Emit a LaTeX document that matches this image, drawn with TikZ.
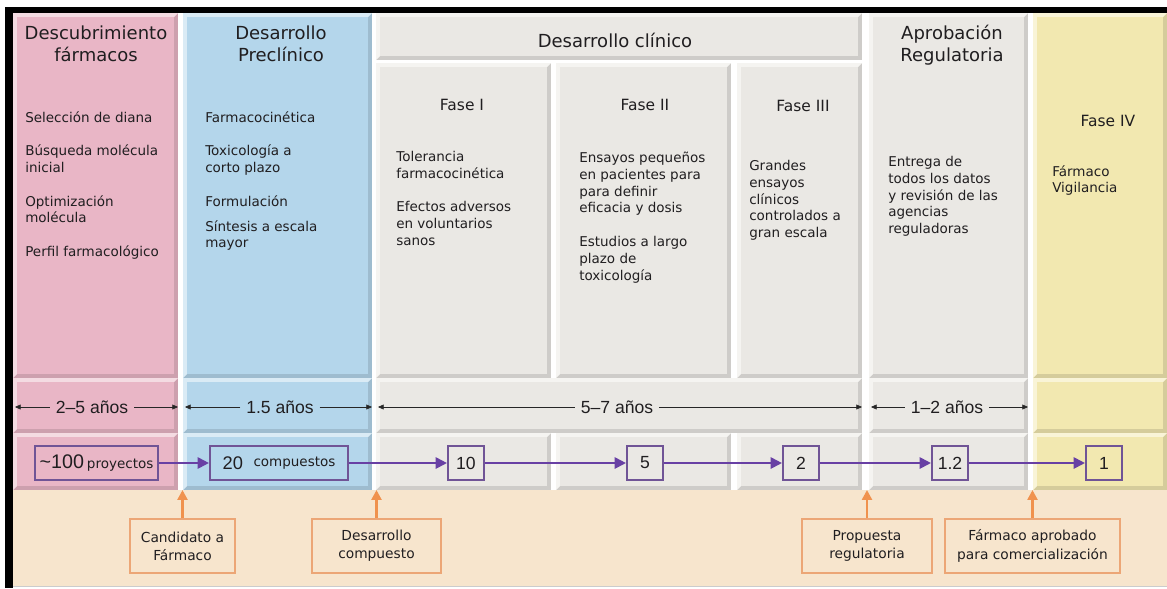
\documentclass[tikz,border=0pt]{standalone}
\usepackage{fontspec}
\setmainfont{DejaVu Sans}
\newfontfamily\numfont{Liberation Sans}
\usepackage{tikz}
\usetikzlibrary{arrows.meta}

\definecolor{discPink}{RGB}{233,182,198}
\definecolor{precBlue}{RGB}{180,214,235}
\definecolor{clinGrey}{RGB}{234,232,228}
\definecolor{postYellow}{RGB}{242,232,176}
\definecolor{baseBeige}{RGB}{247,229,205}
\definecolor{flowPurple}{RGB}{104,64,164}
\definecolor{boxPurple}{RGB}{112,84,150}
\definecolor{mileOrange}{RGB}{240,146,78}
\definecolor{mileBox}{RGB}{236,166,118}
\definecolor{inkGrey}{RGB}{32,30,32}

% panel with a light top-left and a dark bottom-right rim
\newcommand{\bevelbox}[5]{%
  \fill[#5!88!black] (#1,#2) rectangle (#3,#4);
  \fill[#5!50!white] (#1,#4) -- (#1,#2) -- (#3,#2) -- (#3-4,#2+4) -- (#1+4,#2+4) -- (#1+4,#4-4) -- cycle;
  \fill[#5] (#1+4,#2+4) rectangle (#3-4,#4-4);}

\begin{document}
\begin{tikzpicture}[x=0.025cm, y=-0.025cm, every node/.style={text=inkGrey},
  head/.style={align=center, font=\fontsize{12.8}{15.6}\selectfont},
  fase/.style={font=\fontsize{11}{13}\selectfont},
  body/.style={align=left, anchor=north west, inner sep=0pt, font=\fontsize{9.6}{11.9}\selectfont, execute at begin node=\strut},
  durtxt/.style={font=\numfont\fontsize{12.5}{14}\selectfont, inner xsep=4pt},
  dur/.style={black!85, thin, -{Triangle[length=4pt,width=3.5pt]}},
  cnt/.style={draw=boxPurple, line width=1.5pt, minimum width=0.9cm, minimum height=0.85cm, inner sep=0pt, font=\numfont\fontsize{12.5}{14}\selectfont},
  flow/.style={flowPurple, line width=1.4pt, -{Triangle[length=8pt,width=8pt]}},
  mile/.style={draw=mileBox, line width=1.4pt, align=center, minimum height=1.35cm, font=\fontsize{9.8}{13}\selectfont},
  up/.style={mileOrange, line width=2pt, -{Triangle[length=7pt,width=7pt]}}]

  \useasboundingbox (0,0) rectangle (1167,588);
  \fill[white] (0,0) rectangle (1167,588);

  % columns
  \bevelbox{13}{13}{178}{378}{discPink}
  \bevelbox{13}{378}{178}{433}{discPink}
  \bevelbox{13}{433}{178}{490}{discPink}
  \bevelbox{183}{13}{372}{378}{precBlue}
  \bevelbox{183}{378}{372}{433}{precBlue}
  \bevelbox{183}{433}{372}{490}{precBlue}
  \bevelbox{376}{13}{862}{60}{clinGrey}
  \bevelbox{376}{63}{551}{378}{clinGrey}
  \bevelbox{556}{63}{731}{378}{clinGrey}
  \bevelbox{737}{63}{862}{378}{clinGrey}
  \bevelbox{376}{378}{862}{433}{clinGrey}
  \bevelbox{376}{433}{551}{490}{clinGrey}
  \bevelbox{556}{433}{731}{490}{clinGrey}
  \bevelbox{737}{433}{862}{490}{clinGrey}
  \bevelbox{869}{13}{1028}{378}{clinGrey}
  \bevelbox{869}{378}{1028}{433}{clinGrey}
  \bevelbox{869}{433}{1028}{490}{clinGrey}
  \bevelbox{1033}{13}{1167}{378}{postYellow}
  \bevelbox{1033}{378}{1167}{433}{postYellow}
  \bevelbox{1033}{433}{1167}{490}{postYellow}
  \fill[baseBeige] (13,490) rectangle (1167,586);
  \draw[black!20] (13,586.5) -- (1167,586.5);

  % frame
  \fill[black] (5,7) rectangle (1167,13);
  \fill[black] (5,7) rectangle (13,588);

  % headers
  \node[head] (disc) at (96,44) {Descubrimiento\\fármacos};
  \node[head] (prec) at (281,44) {Desarrollo\\Preclínico};
  \node[head] (clin) at (615,40) {Desarrollo clínico};
  \node[head] (apro) at (952,45) {Aprobación\\Regulatoria};

  \node[fase] (f1) at (462,105) {Fase I};
  \node[fase] (f2) at (645,105) {Fase II};
  \node[fase] (f3) at (803,106) {Fase III};
  \node[fase] (f4) at (1108,121) {Fase IV};

  % column texts
  \node[body] (discTxt) at (25,111) {Selección de diana\\[12pt]Búsqueda molécula\\inicial\\[12pt]Optimización\\molécula\\[12pt]Perfil farmacológico};
  \node[body] (precTxt) at (205,111) {Farmacocinética\\[12pt]Toxicología a\\corto plazo\\[12pt]Formulación\\[6pt]Síntesis a escala\\mayor};
  \node[body] (f1Txt) at (396,151) {Tolerancia\\farmacocinética\\[12pt]Efectos adversos\\en voluntarios\\sanos};
  \node[body] (f2Txt) at (579,152) {Ensayos pequeños\\en pacientes para\\para definir\\eficacia y dosis\\[12pt]Estudios a largo\\plazo de\\toxicología};
  \node[body] (f3Txt) at (749,160) {Grandes\\ensayos\\clínicos\\controlados a\\gran escala};
  \node[body] (aproTxt) at (888,156) {Entrega de\\todos los datos\\y revisión de las\\agencias\\reguladoras};
  \node[body] (f4Txt) at (1052,165) {Fármaco\\Vigilancia};

  % durations
  \coordinate (d1a) at (15,407);  \coordinate (d1b) at (178,407);
  \coordinate (d2a) at (185,407); \coordinate (d2b) at (372,407);
  \coordinate (d3a) at (378,407); \coordinate (d3b) at (862,407);
  \coordinate (d4a) at (871,407); \coordinate (d4b) at (1028,407);
  \node[durtxt] (d1) at (92,407) {2–5 años};
  \node[durtxt] (d2) at (280,407) {1.5 años};
  \node[durtxt] (d3) at (617,407) {5–7 años};
  \node[durtxt] (d4) at (947,407) {1–2 años};
  \draw[dur] (d1) -- (d1a); \draw[dur] (d1) -- (d1b);
  \draw[dur] (d2) -- (d2a); \draw[dur] (d2) -- (d2b);
  \draw[dur] (d3) -- (d3a); \draw[dur] (d3) -- (d3b);
  \draw[dur] (d4) -- (d4a); \draw[dur] (d4) -- (d4b);

  % counts
  \node[cnt, minimum width=3.075cm] (n100) at (96.5,463) {{\fontsize{14}{16}\selectfont\textasciitilde100}\,{\fontspec{DejaVu Sans}\fontsize{9.6}{11}\selectfont proyectos}};
  \node[cnt, minimum width=3.45cm] (n20) at (279,463) {{\fontsize{13}{15}\selectfont 20}\hspace{0.6em}\raisebox{1.5pt}{\fontspec{DejaVu Sans}\fontsize{9.6}{11}\selectfont compuestos}};
  \node[cnt] (n10) at (466,463) {10};
  \node[cnt] (n5) at (645,463) {5};
  \node[cnt] (n2) at (801,463) {2};
  \node[cnt] (n12) at (950,463) {1.2};
  \node[cnt] (n1) at (1104,463) {1};
  \draw[flow] (n100) -- (n20);
  \draw[flow] (n20) -- (n10);
  \draw[flow] (n10) -- (n5);
  \draw[flow] (n5) -- (n2);
  \draw[flow] (n2) -- (n12);
  \draw[flow] (n12) -- (n1);

  % milestones
  \node[mile, minimum width=2.625cm] (cand) at (182.5,546) {Candidato a\\Fármaco};
  \node[mile, minimum width=3.225cm] (desc) at (376.5,546) {Desarrollo\\compuesto};
  \node[mile, minimum width=3.25cm] (prop) at (867,546) {Propuesta\\regulatoria};
  \node[mile, minimum width=4.375cm] (aprob) at (1032.5,546) {Fármaco aprobado\\para comercialización};
  \coordinate (edge) at (0,490);
  \draw[up] (cand.north) -- (cand.north |- edge);
  \draw[up] (desc.north) -- (desc.north |- edge);
  \draw[up] (prop.north) -- (prop.north |- edge);
  \draw[up] (aprob.north) -- (aprob.north |- edge);
\end{tikzpicture}
\end{document}
